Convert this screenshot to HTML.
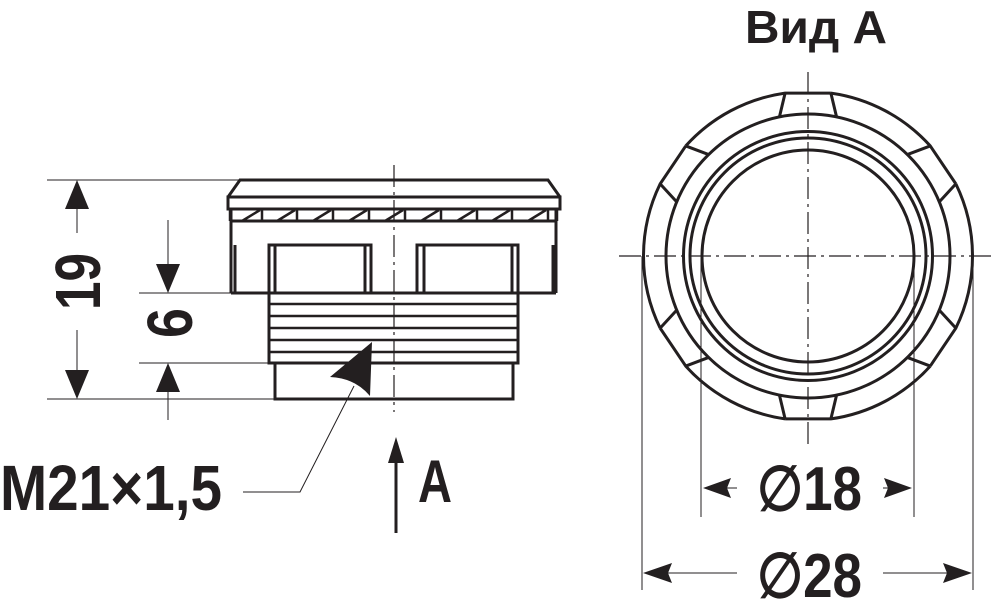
<!DOCTYPE html>
<html><head><meta charset="utf-8"><style>
html,body{margin:0;padding:0;background:#fff}
svg{display:block}
text{font-family:"Liberation Sans Narrow","Liberation Sans",sans-serif;fill:#231f20}
</style></head><body>
<svg id="s" width="995" height="604" viewBox="0 0 995 604" xmlns="http://www.w3.org/2000/svg">
<g stroke="#231f20" fill="none" stroke-width="3">
<!-- side view -->
<path d="M228,197 L240,180 L548,180 L560,197"/>
<rect x="228" y="197" width="332" height="12"/>
<line x1="230" y1="221" x2="557" y2="221"/>
<line x1="231" y1="209" x2="231" y2="293"/>
<line x1="556" y1="209" x2="556" y2="293"/>
<line x1="235" y1="245" x2="235" y2="293"/>
<line x1="553" y1="245" x2="553" y2="293"/>
<line x1="231" y1="293" x2="556" y2="293"/>
<rect x="269" y="245" width="102" height="48"/>
<line x1="275" y1="245" x2="275" y2="293"/><line x1="365" y1="245" x2="365" y2="293"/>
<rect x="417" y="245" width="101" height="48"/>
<line x1="424" y1="245" x2="424" y2="293"/><line x1="512" y1="245" x2="512" y2="293"/>
<rect x="269" y="293" width="249" height="70"/>
<g stroke-width="2.5"><line x1="269" y1="304" x2="518" y2="304"/><line x1="269" y1="316" x2="518" y2="316"/><line x1="269" y1="328" x2="518" y2="328"/><line x1="269" y1="340" x2="518" y2="340"/><line x1="269" y1="352" x2="518" y2="352"/></g>
<rect x="275" y="363" width="238" height="36"/>
<g id="hatch" stroke-width="2.5"></g>
<!-- right view -->
<g id="rv"></g>
</g>
<!-- centre lines -->
<g stroke="#231f20" stroke-width="1.2" stroke-dasharray="22,5,3,5">
<line x1="394" y1="165" x2="394" y2="412"/>
<line x1="808" y1="72" x2="808" y2="445"/>
<line x1="619" y1="256" x2="995" y2="256"/>
</g>
<!-- black arrow head -->
<path d="M372,342 L330,377 Q355,378 370,396 Z" fill="#231f20"/>
<!-- dims -->
<g stroke="#231f20" stroke-width="1" fill="none">
<line x1="47" y1="180" x2="240" y2="180"/>
<line x1="139" y1="293" x2="231" y2="293"/>
<line x1="139" y1="363" x2="269" y2="363"/>
<line x1="47" y1="399" x2="275" y2="399"/>
<line x1="77" y1="205" x2="77" y2="233"/>
<line x1="77" y1="330" x2="77" y2="375"/>
<line x1="168" y1="220" x2="168" y2="270"/>
<line x1="168" y1="387" x2="168" y2="420"/>
<path d="M354,386 L300,492 L243,492"/>
<line x1="701" y1="256" x2="701" y2="517"/>
<line x1="914" y1="256" x2="914" y2="517"/>
<line x1="642" y1="256" x2="642" y2="590"/>
<line x1="973" y1="256" x2="973" y2="590"/>
<line x1="725" y1="488" x2="737" y2="488"/>
<line x1="883" y1="488" x2="893" y2="488"/>
<line x1="665" y1="573" x2="737" y2="573"/>
<line x1="883" y1="573" x2="950" y2="573"/>
</g>
<g fill="#231f20">
<path d="M77,180 L65,209 L89,209 Z"/>
<path d="M77,399 L65,370 L89,370 Z"/>
<path d="M168,293 L156,264 L180,264 Z"/>
<path d="M168,363 L156,392 L180,392 Z"/>
<path d="M703,488 L731,478 L727,488 L731,498 Z"/>
<path d="M912,488 L884,478 L888,488 L884,498 Z"/>
<path d="M643,573 L672,563 L668,573 L672,583 Z"/>
<path d="M972,573 L943,563 L947,573 L943,583 Z"/>
<path d="M396,437 L388,463 L404,463 Z"/>
</g>
<line x1="396" y1="460" x2="396" y2="533" stroke="#231f20" stroke-width="3"/>
<!-- text -->
<text x="0" y="510" font-size="64" font-weight="bold" textLength="222" lengthAdjust="spacingAndGlyphs">M21×1,5</text>
<text x="418" y="502" font-size="60" font-weight="bold" textLength="34" lengthAdjust="spacingAndGlyphs">A</text>
<text x="745" y="43" font-size="46" font-weight="bold" textLength="142" lengthAdjust="spacingAndGlyphs">Вид А</text>
<text x="757" y="510" font-size="62" font-weight="bold" textLength="105" lengthAdjust="spacingAndGlyphs">∅18</text>
<text x="757" y="597" font-size="62" font-weight="bold" textLength="105" lengthAdjust="spacingAndGlyphs">∅28</text>
<text transform="translate(100,310) rotate(-90)" font-size="64" font-weight="bold" textLength="57" lengthAdjust="spacingAndGlyphs">19</text>
<text transform="translate(192,338) rotate(-90)" font-size="64" font-weight="bold" textLength="30" lengthAdjust="spacingAndGlyphs">6</text>
</svg>
<script>
var NS="http://www.w3.org/2000/svg";
function el(p,n,a){var e=document.createElementNS(NS,n);for(var k in a)e.setAttribute(k,a[k]);p.appendChild(e);return e;}
var h=document.getElementById("hatch");
var divs=[262,297,333,369,405,441,477,512,548];
divs.forEach(function(d){el(h,"line",{x1:d,y1:209,x2:d,y2:221});el(h,"line",{x1:d-20,y1:221,x2:d-2,y2:210});});
el(h,"line",{x1:230,y1:209,x2:230,y2:221});el(h,"line",{x1:557,y1:209,x2:557,y2:221});
var rv=document.getElementById("rv");
var cx=808,cy=256,R=164.5,R2=142;
[124.5,118,106].forEach(function(r){el(rv,"circle",{cx:cx,cy:cy,r:r});});
el(rv,"circle",{cx:cx,cy:cy,r:R2});
var centers=[90,34,-34,-90,-146,146],hw=8,hw2=11.6,rad=Math.PI/180;
function P(r,a){return [cx+r*Math.cos(a*rad),cy-r*Math.sin(a*rad)];}
// outer path: arcs between notches, chords at notches
var list=centers.map(function(c){return ((c%360)+360)%360;}).sort(function(a,b){return a-b;});
var d="";
for(var i=0;i<list.length;i++){
 var c=list[i],n=list[(i+1)%list.length];if(n<c)n+=360;
 var a1=P(R,c-hw),a2=P(R,c+hw),b=P(R,n-hw);
 d+="M"+a1[0]+","+a1[1]+" L"+a2[0]+","+a2[1]+" A"+R+","+R+" 0 0 0 "+b[0]+","+b[1]+" ";
 var i1=P(R2,c-hw2),i2=P(R2,c+hw2);
 el(rv,"line",{x1:a1[0],y1:a1[1],x2:i1[0],y2:i1[1]});
 el(rv,"line",{x1:a2[0],y1:a2[1],x2:i2[0],y2:i2[1]});
}
el(rv,"path",{d:d});
</script>
</body></html>
